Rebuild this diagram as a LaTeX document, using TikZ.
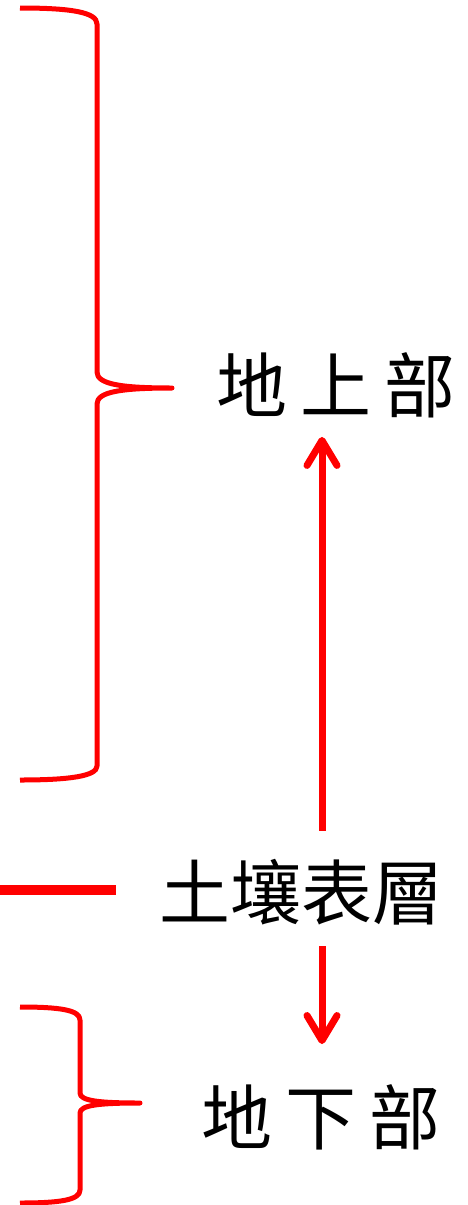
\documentclass[tikz,border=0pt]{standalone}
\usepackage{fontspec}
\newfontfamily\cjk{Noto Sans CJK TC}
\usetikzlibrary{arrows.meta}
\usetikzlibrary{calc}
\definecolor{linecolor}{HTML}{FF0000}
\tikzset{
  tagtext/.style={inner sep=0pt, font=\cjk\fontsize{71}{71}\selectfont},
  widetext/.style={tagtext, font=\cjk\fontsize{71}{71}\selectfont\addfontfeature{LetterSpace=19}},
  bracepath/.style={color=linecolor, line width=5pt, line join=round},
  updown/.style={color=linecolor, line width=7pt, -{Straight Barb[length=25pt,width=30pt,round]}}
}

\begin{document}
\begin{tikzpicture}[x=1pt,y=-1pt]
  \useasboundingbox (0,0) rectangle (468,1205);
  %% braces
  \draw [bracepath] (20,8) .. controls (70,8) and (97,12) .. (97,24) -- (97,372)
     .. controls (97,384) and (120,388) .. (172,388)
     .. controls (120,388) and (97,392) .. (97,404) -- (97,766)
     .. controls (97,776) and (70,780) .. (20,780);
  \draw [bracepath] (20,1007) .. controls (60,1007) and (80,1010) .. (80,1020) -- (80,1093)
     .. controls (80,1101) and (100,1103) .. (140,1103)
     .. controls (100,1103) and (80,1105) .. (80,1113) -- (80,1190)
     .. controls (80,1200) and (60,1203) .. (20,1203);
  %% ground line
  \draw [linecolor, line width=10pt] (0,890) -- (116,890);
  %% labels
  \node [widetext] (upper) at (336,385) {地上部};
  \node [tagtext] (soil) at (301,892) {土壤表層};
  \node [widetext] (lower) at (321,1117) {地下部};
  %% arrows
  \draw [updown] ($(soil.north -| lower.north)+(1,-28)$) -- ($(upper.south -| lower.north)+(1,19)$);
  \draw [updown] ($(soil.south -| lower.north)+(1,21)$) -- ($(lower.north)+(1,-40)$);
\end{tikzpicture}
\end{document}
